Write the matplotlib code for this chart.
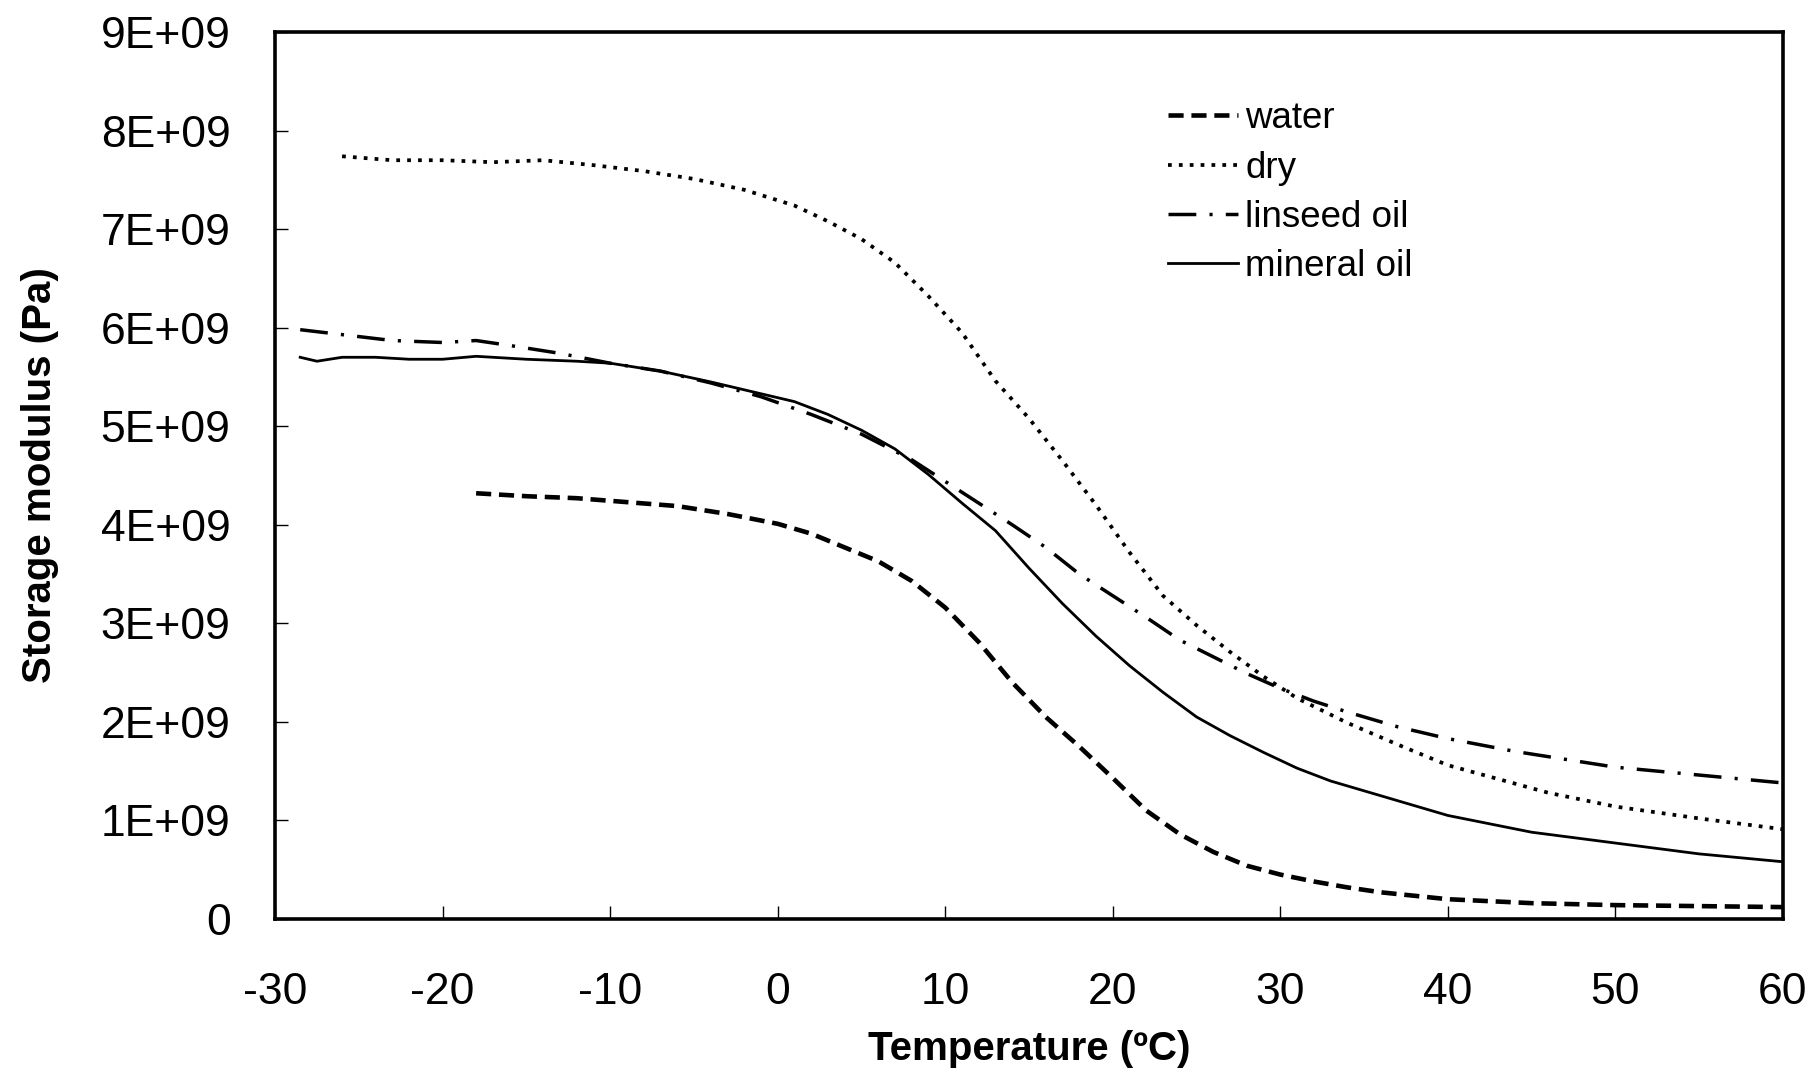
import matplotlib
matplotlib.use("Agg")
import matplotlib.pyplot as plt
from matplotlib.ticker import FuncFormatter, MultipleLocator

plt.rcParams['font.family'] = ['Liberation Sans', 'DejaVu Sans']
plt.rcParams['axes.unicode_minus'] = False

# Storage modulus (units of 1E+09 Pa) versus temperature (deg C)
temp_water = [-18, -15, -12, -9, -6, -3, 0, 2, 4, 6, 8, 10, 12, 14, 16, 18, 20, 22,
              24, 26, 28, 30, 32, 34, 36, 40, 45, 50, 55, 60]
mod_water = [4.32, 4.29, 4.27, 4.23, 4.19, 4.11, 4.01, 3.91, 3.77, 3.63, 3.43, 3.16,
             2.81, 2.40, 2.05, 1.75, 1.43, 1.10, 0.86, 0.68, 0.54, 0.45, 0.38, 0.32,
             0.27, 0.20, 0.16, 0.14, 0.13, 0.12]

temp_dry = [-26, -23, -20, -17, -14, -11, -8, -5, -2, 1, 3, 5, 7, 9, 11, 13, 15, 17,
            19, 21, 23, 25, 27, 29, 31, 34, 37, 40, 43, 46, 50, 55, 60]
mod_dry = [7.74, 7.70, 7.70, 7.68, 7.70, 7.65, 7.59, 7.51, 7.40, 7.24, 7.08, 6.90,
           6.66, 6.32, 5.95, 5.46, 5.08, 4.65, 4.20, 3.72, 3.28, 2.98, 2.71, 2.46,
           2.24, 1.99, 1.77, 1.56, 1.42, 1.28, 1.14, 1.02, 0.91]

temp_linseed = [-28.5, -26, -23, -20, -18, -16, -13, -10, -7, -4, -1, 2, 5, 8, 10,
                12, 14, 16, 18, 20, 22, 24, 26, 28, 30, 32, 34, 37, 40, 44, 50, 55, 60]
mod_linseed = [5.98, 5.93, 5.87, 5.85, 5.87, 5.82, 5.74, 5.64, 5.56, 5.44, 5.30,
               5.12, 4.92, 4.66, 4.44, 4.22, 4.00, 3.77, 3.50, 3.28, 3.06, 2.83,
               2.66, 2.49, 2.34, 2.21, 2.10, 1.95, 1.83, 1.70, 1.54, 1.46, 1.38]

temp_mineral = [-28.5, -27.5, -26, -24, -22, -20, -18, -15, -12, -10, -7, -4, -1, 1,
                3, 5, 7, 9, 11, 13, 15, 17, 19, 21, 23, 25, 27, 29, 31, 33, 36, 40,
                45, 50, 55, 60]
mod_mineral = [5.70, 5.66, 5.70, 5.70, 5.68, 5.68, 5.71, 5.68, 5.66, 5.64, 5.56,
               5.45, 5.33, 5.25, 5.12, 4.96, 4.77, 4.51, 4.22, 3.94, 3.56, 3.20,
               2.87, 2.57, 2.30, 2.05, 1.86, 1.69, 1.53, 1.40, 1.25, 1.05, 0.88,
               0.77, 0.66, 0.58]

series_labels = ["water", "dry", "linseed oil", "mineral oil"]
x_ticks = [-30, -20, -10, 0, 10, 20, 30, 40, 50, 60]
scale = 1e9

fig = plt.figure(figsize=(18.18, 10.71), dpi=100)
ax = fig.add_axes([0.1513, 0.142, 0.8294, 0.828])

ax.plot(temp_water, [v * scale for v in mod_water], color='black', lw=3.3,
        linestyle=(0, (3.3, 1.7)), label=series_labels[0])
ax.plot(temp_dry, [v * scale for v in mod_dry], color='black', lw=2.7,
        linestyle=(0, (1.0, 1.9)), label=series_labels[1])
ax.plot(temp_linseed, [v * scale for v in mod_linseed], color='black', lw=2.5,
        linestyle=(0, (8.0, 3.8, 0.9, 3.8)), label=series_labels[2])
ax.plot(temp_mineral, [v * scale for v in mod_mineral], color='black', lw=2.0,
        linestyle='-', label=series_labels[3])

ax.set_xlim(-30, 60)
ax.set_ylim(0, 9e9)
ax.set_xticks(x_ticks)
ax.yaxis.set_major_locator(MultipleLocator(1e9))


def sci_label(v, pos):
    if abs(v) < 1:
        return "0"
    return f"{v:.0E}"


ax.yaxis.set_major_formatter(FuncFormatter(sci_label))

for sp in ax.spines.values():
    sp.set_linewidth(2.6)
    sp.set_color('black')

ax.tick_params(axis='both', direction='in', length=9.5, width=1.0,
               labelsize=32, colors='black')
ax.tick_params(axis='y', pad=32)
ax.tick_params(axis='x', pad=38)

ax.set_xlabel("Temperature (ºC)", fontsize=29, fontweight='bold')
ax.set_ylabel("Storage modulus (Pa)", fontsize=29, fontweight='bold')
ax.xaxis.set_label_coords(0.5, -0.125)
ax.yaxis.set_label_coords(-0.143, 0.5)

leg = ax.legend(loc='upper left', bbox_to_anchor=(0.592, 0.922), frameon=False,
                fontsize=26.5, handlelength=1.9, handletextpad=0.2,
                labelspacing=0.39, borderpad=0, borderaxespad=0)

fig.savefig("out.png", dpi=100, facecolor='white')
